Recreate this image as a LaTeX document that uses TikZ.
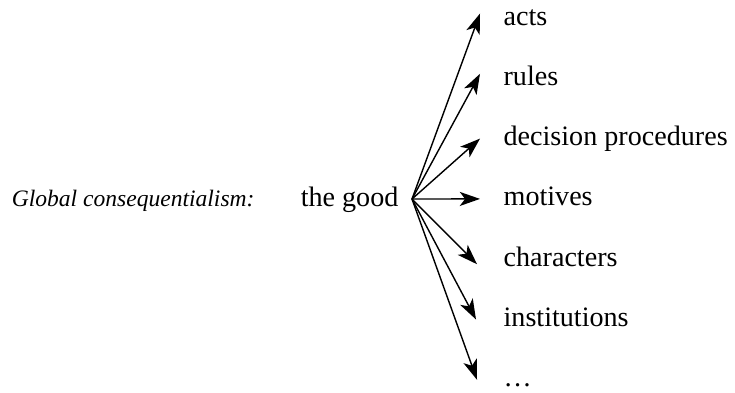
\documentclass[tikz,border=0pt]{standalone}
\usepackage{fontspec}
\setmainfont{Liberation Serif}
\usepackage{tikz}
\usetikzlibrary{arrows.meta}
\usetikzlibrary{positioning}

\begin{document}
\begin{tikzpicture}[
        >={Stealth[length=11.5pt, width=8pt, inset=3pt]},
        word/.style={rectangle, inner sep=3pt, text height=11pt, text depth=3pt, font=\fontsize{16}{19}\selectfont},
        item/.style={word, anchor=west},
        intro/.style={rectangle, inner sep=3pt, text height=11pt, text depth=3pt, font=\fontsize{13.4}{16}\selectfont\itshape}
      ]
        \useasboundingbox (0,0) rectangle (14.7,-7.84);

        \node[word, anchor=east]  (good)   at (8.08,-3.98)  {the good};
        \node[intro]              (global) [left=0.7cm of good]  {Global consequentialism:};
        \coordinate               (hub)    at ([xshift=0.16cm]good.east);

        \node[item]  (acts)     at (9.96,-0.36)                  {acts};
        \node[item]  (rules)    at ([yshift=-1.206cm]acts.west)   {rules};
        \node[item]  (decision) at ([yshift=-1.206cm]rules.west)  {decision procedures};
        \node[item]  (motives)  at ([yshift=-1.206cm]decision.west) {motives};
        \node[item]  (chars)    at ([yshift=-1.206cm]motives.west) {characters};
        \node[item]  (inst)     at ([yshift=-1.206cm]chars.west)  {institutions};
        \node[item]  (more)     at ([yshift=-1.206cm]inst.west)   {\ldots};

        \draw[->, thick]  (hub) -- ([xshift=-0.36cm, yshift=0.09cm]acts.west);
        \draw[->, thick]  (hub) -- ([xshift=-0.36cm, yshift=0.09cm]rules.west);
        \draw[->, thick]  (hub) -- ([xshift=-0.36cm]decision.west);
        \draw[->, thick]  (hub) -- ([xshift=-0.36cm]motives.west);
        \draw[->, thick]  (hub) -- ([xshift=-0.42cm, yshift=-0.1cm]chars.west);
        \draw[->, thick]  (hub) -- ([xshift=-0.44cm]inst.west);
        \draw[->, thick]  (hub) -- ([xshift=-0.42cm]more.west);
      \end{tikzpicture}
\end{document}
